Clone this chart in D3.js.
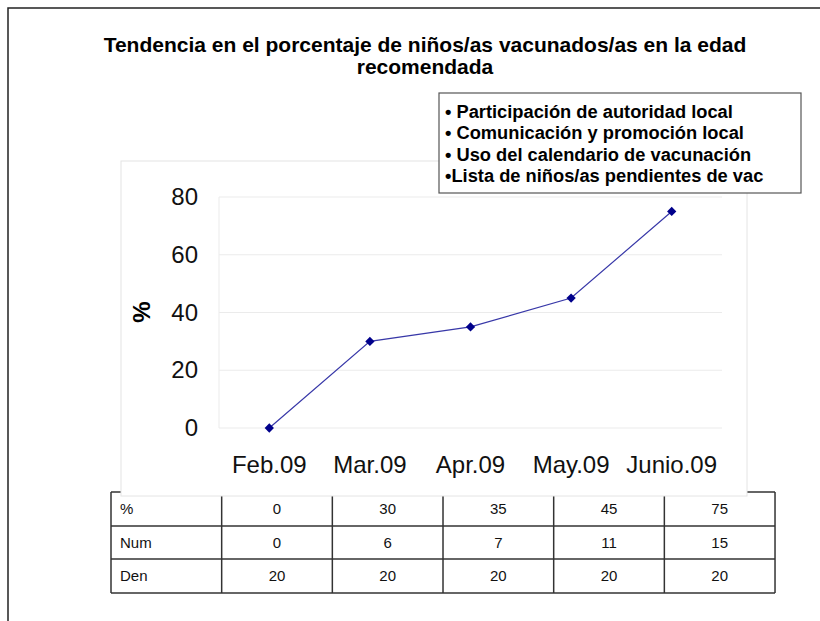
<!DOCTYPE html>
<html>
<head>
<meta charset="utf-8">
<script src="https://cdn.jsdelivr.net/npm/d3@7"></script>
<style>
  body { margin: 0; background: #fff; }
  svg { display: block; font-family: "Liberation Sans", Arial, sans-serif; }
</style>
</head>
<body>
<div id="chart"></div>
<script>
// data
var months = ["Feb.09", "Mar.09", "Apr.09", "May.09", "Junio.09"];
var pct = [0, 30, 35, 45, 75];
var num = [0, 6, 7, 11, 15];
var den = [20, 20, 20, 20, 20];
var yTicks = [0, 20, 40, 60, 80];
var notes = [
    "\u2022 Participación de autoridad local",
    "\u2022 Comunicación y promoción local",
    "\u2022 Uso del calendario de vacunación",
    "\u2022Lista de niños/as pendientes de vac"
];
var titleLines = [
    "Tendencia en el porcentaje de niños/as vacunados/as en la edad",
    "recomendada"
];

var width = 820, height = 621;
var plot = { left: 219, right: 722, top: 197, bottom: 428 };

var svg = d3.select("#chart").append("svg")
    .attr("width", width)
    .attr("height", height);

// outer frame (only left and top edges show)
svg.append("path")
    .attr("d", "M8," + height + "V8H" + width)
    .attr("fill", "none")
    .attr("stroke", "#222")
    .attr("stroke-width", 1.5);

// title
svg.selectAll("text.title").data(titleLines).enter().append("text")
    .attr("class", "title")
    .attr("x", 425)
    .attr("y", function(d, i) { return 52 + i * 22; })
    .attr("text-anchor", "middle")
    .attr("font-size", 21)
    .attr("font-weight", "bold")
    .text(function(d) { return d; });

// data table under the chart
var rows = [["%"].concat(pct), ["Num"].concat(num), ["Den"].concat(den)];
var colX = d3.range(7).map(function(i) { return 111 + i * 110.67; });
var rowY = [492, 526, 559, 593];
var tbl = svg.append("g");
rowY.forEach(function(y) {
    tbl.append("line").attr("x1", colX[0]).attr("x2", colX[6])
        .attr("y1", y).attr("y2", y)
        .attr("stroke", "#333").attr("stroke-width", 1.5);
});
colX.forEach(function(x) {
    tbl.append("line").attr("x1", x).attr("x2", x)
        .attr("y1", rowY[0]).attr("y2", rowY[3])
        .attr("stroke", "#333").attr("stroke-width", 1.5);
});
rows.forEach(function(r, ri) {
    r.forEach(function(v, ci) {
        tbl.append("text")
            .attr("x", ci === 0 ? colX[0] + 9 : (colX[ci] + colX[ci + 1]) / 2)
            .attr("y", (rowY[ri] + rowY[ri + 1]) / 2 + 5)
            .attr("text-anchor", ci === 0 ? "start" : "middle")
            .attr("font-size", 15)
            .attr("fill", "#111")
            .text(v);
    });
});

// chart panel sits on top of the table's upper edge
svg.append("rect")
    .attr("x", 121).attr("y", 161)
    .attr("width", 626).attr("height", 335)
    .attr("fill", "#fff")
    .attr("stroke", "#e4e4e4");

var x = d3.scaleBand().domain(months).range([plot.left, plot.right]);
var y = d3.scaleLinear().domain([0, 80]).range([plot.bottom, plot.top]);

var g = svg.append("g");

// gridlines
g.selectAll("line.grid").data(yTicks).enter().append("line")
    .attr("class", "grid")
    .attr("x1", plot.left).attr("x2", plot.right)
    .attr("y1", function(d) { return y(d); })
    .attr("y2", function(d) { return y(d); })
    .attr("stroke", "#ebebeb");
g.append("line")
    .attr("x1", plot.left).attr("x2", plot.left)
    .attr("y1", plot.top).attr("y2", plot.bottom)
    .attr("stroke", "#ebebeb");

// y axis labels
var yAxis = d3.axisLeft(y).tickValues(yTicks).tickSize(0).tickPadding(21);
g.append("g")
    .attr("transform", "translate(" + plot.left + ",0)")
    .call(yAxis)
    .call(function(s) { s.select(".domain").remove(); })
    .selectAll("text")
    .attr("font-size", 24)
    .attr("font-family", "Liberation Sans, Arial, sans-serif")
    .attr("fill", "#111");

// x axis labels
var xAxis = d3.axisBottom(x).tickSize(0).tickPadding(28);
g.append("g")
    .attr("transform", "translate(0," + plot.bottom + ")")
    .call(xAxis)
    .call(function(s) { s.select(".domain").remove(); })
    .selectAll("text")
    .attr("font-size", 24)
    .attr("font-family", "Liberation Sans, Arial, sans-serif")
    .attr("fill", "#111");

// y title
svg.append("text")
    .attr("transform", "translate(150,312) rotate(-90)")
    .attr("text-anchor", "middle")
    .attr("font-size", 24)
    .attr("font-weight", "bold")
    .text("%");

// the line and its markers
var line = d3.line()
    .x(function(d, i) { return x(months[i]) + x.bandwidth() / 2; })
    .y(function(d) { return y(d); });

g.append("path")
    .datum(pct)
    .attr("d", line)
    .attr("fill", "none")
    .attr("stroke", "#3838a8")
    .attr("stroke-width", 1.2);

g.selectAll("path.mk").data(pct).enter().append("path")
    .attr("class", "mk")
    .attr("d", d3.symbol().type(d3.symbolDiamond2).size(55))
    .attr("transform", function(d, i) {
        return "translate(" + (x(months[i]) + x.bandwidth() / 2) + "," + y(d) + ")";
    })
    .attr("fill", "#00008b");

// note box
var box = svg.append("g");
box.append("rect")
    .attr("x", 439).attr("y", 93)
    .attr("width", 362).attr("height", 100)
    .attr("fill", "#fff")
    .attr("stroke", "#555")
    .attr("stroke-width", 1.2);
box.selectAll("text").data(notes).enter().append("text")
    .attr("x", 445)
    .attr("y", function(d, i) { return 118 + i * 21.3; })
    .attr("font-size", 18.3)
    .attr("font-weight", "bold")
    .text(function(d) { return d; });
</script>
</body>
</html>
